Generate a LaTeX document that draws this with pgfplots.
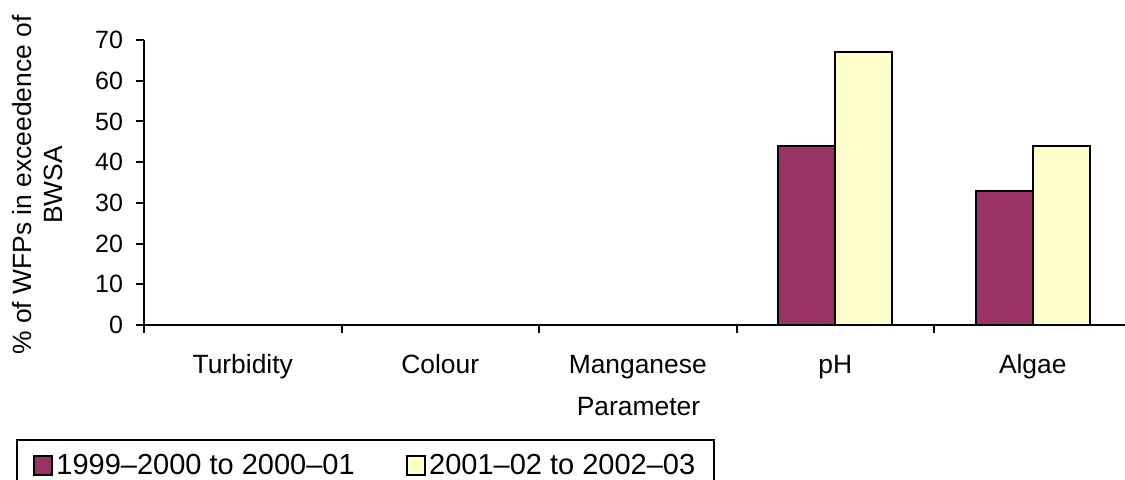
\documentclass[border=0pt]{standalone}
\usepackage{fontspec}
\setmainfont{Liberation Sans}
\usepackage{pgfplots}
\pgfplotsset{compat=1.18}
\usetikzlibrary{calc}
\definecolor{plum}{HTML}{993366}
\definecolor{paleyel}{HTML}{FFFFCC}
\newcommand\labfont{\fontsize{13.2pt}{15.5pt}\selectfont}
\newcommand\legfont{\fontsize{14.5pt}{17pt}\selectfont}
\newcommand\tickfont{\fontsize{12.5pt}{14pt}\selectfont}

\begin{document}
\begin{tikzpicture}
\begin{axis}[
  scale only axis,
  width=490.5pt, height=142.5pt,
  xmin=-0.5, xmax=4.467, ymin=0, ymax=70,
  axis x line=bottom, axis y line=left,
  axis line style={-, line width=1pt, black},
  tick align=outside, major tick length=4pt,
  tick style={black, line width=1pt},
  ytick={0,10,...,70},
  yticklabel style={font=\tickfont, xshift=-3pt},
  /pgf/number format/assume math mode=true,
  xtick={-0.5,0.5,1.5,2.5,3.5}, xticklabels={},
  extra x ticks={0,1,2,3,4},
  extra x tick labels={Turbidity,Colour,Manganese,pH,Algae},
  extra x tick style={major tick length=0pt,
    xticklabel style={font=\labfont, anchor=base, yshift=-24pt}},
  xlabel={Parameter},
  every axis x label/.style={at={(rel axis cs:0.5,0)}, anchor=base,
    xshift=2pt, yshift=-45pt, font=\labfont},
  ylabel={\% of WFPs in exceedence of\\BWSA},
  every axis y label/.style={at={($(rel axis cs:0,0.5)+(-53pt,-1.25pt)$)},
    rotate=90, anchor=center, align=center, font=\labfont},
  ybar=0pt, bar width=28.5pt,
  legend columns=2,
  legend style={at={(rel axis cs:0,0)}, anchor=north west,
    xshift=-64pt, yshift=-57pt, draw=black, line width=1pt,
    font=\legfont, inner xsep=8pt, inner ysep=5pt,
    nodes={inner xsep=1.5pt},
    /tikz/every odd column/.append style={column sep=0pt},
    /tikz/every even column/.append style={column sep=24pt}},
  legend image code/.code={
    \draw[#1, line width=1pt] (0pt,-4.6pt) rectangle (9.2pt,4.6pt);},
  legend cell align=left,
]
\addplot[draw=black, line width=1pt, fill=plum] coordinates {
  (0,0) (1,0) (2,0) (3,44) (4,33)};
\addlegendentry{1999–2000 to 2000–01}
\addplot[draw=black, line width=1pt, fill=paleyel] coordinates {
  (0,0) (1,0) (2,0) (3,67) (4,44)};
\addlegendentry{2001–02 to 2002–03}
\end{axis}
\pgfresetboundingbox
\path[use as bounding box] ($(current axis.south west)+(-72pt,-77pt)$)
  rectangle ($(current axis.south west)+(490.5pt,162.5pt)$);
\end{tikzpicture}
\end{document}
